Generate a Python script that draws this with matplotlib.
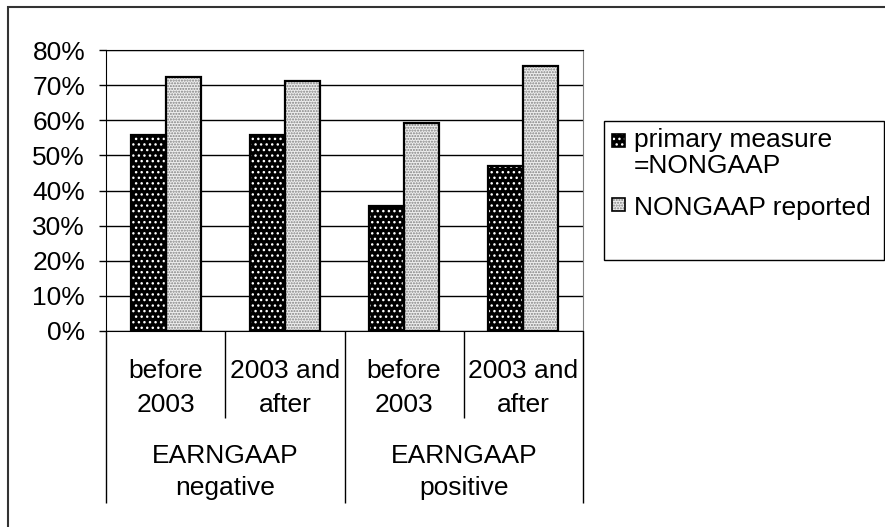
import matplotlib.pyplot as plt
from matplotlib.patches import Rectangle
from matplotlib.transforms import blended_transform_factory

plt.rcParams['font.family'] = ['Liberation Sans', 'DejaVu Sans']
plt.rcParams['font.size'] = 19

periods = ['before\n2003', '2003 and\nafter', 'before\n2003', '2003 and\nafter']
groups = ['EARNGAAP\nnegative', 'EARNGAAP\npositive']
primary_nongaap = [0.557, 0.557, 0.357, 0.470]
nongaap_reported = [0.723, 0.712, 0.592, 0.755]
series_names = ['primary measure\n=NONGAAP', 'NONGAAP reported']

W, H = 885, 527
fig = plt.figure(figsize=(W / 100, H / 100), dpi=100)


def fx(px):
    return px / W


def fy(py):
    return 1 - py / H


ax = fig.add_axes([fx(106), fy(331), fx(583 - 106), (331 - 50) / H])

x = list(range(len(periods)))
w = 0.293
styles = [
    dict(face='black', hatch='...', hcolor='white'),
    dict(face='#eeeeee', hatch='......', hcolor='#808080'),
]
for vals, off, st in [(primary_nongaap, -w / 2, styles[0]),
                      (nongaap_reported, w / 2, styles[1])]:
    xs = [i + off for i in x]
    ax.bar(xs, vals, w, color=st['face'], hatch=st['hatch'],
           edgecolor=st['hcolor'], linewidth=0, zorder=2)
    ax.bar(xs, vals, w, fill=False, edgecolor='black', linewidth=1.6, zorder=3)

ax.set_xlim(-0.5, 3.5)
ax.set_ylim(0, 0.8)
ax.set_yticks([i / 10 for i in range(9)])
ax.set_yticklabels([f'{i * 10}%' for i in range(9)])
ax.tick_params(axis='y', length=5, width=1, pad=10, colors='black')
ax.yaxis.grid(True, color='black', linewidth=1)
ax.set_axisbelow(True)

# category separators hanging below the plot area
ax.set_xticks([-0.5, 1.5, 3.5])
ax.set_xticks([0.5, 2.5], minor=True)
ax.set_xticklabels([])
ax.tick_params(axis='x', which='major', length=172 * 0.72, width=1, direction='out')
ax.tick_params(axis='x', which='minor', length=87 * 0.72, width=1, direction='out')

for s in ['left', 'bottom', 'top']:
    ax.spines[s].set_color('black')
ax.spines['right'].set_color('#808080')

tr = blended_transform_factory(ax.transData, fig.transFigure)
for i, lab in enumerate(periods):
    for j, line in enumerate(lab.split('\n')):
        ax.text(i, fy(378 + 34 * j), line, transform=tr, ha='center', va='baseline')
for g, lab in enumerate(groups):
    for j, line in enumerate(lab.split('\n')):
        ax.text(2 * g + 0.5, fy(463 + 32 * j), line, transform=tr, ha='center', va='baseline')

# legend box
fig.add_artist(Rectangle((fx(604), fy(260)), fx(884 - 604), (260 - 121) / H,
                         transform=fig.transFigure, fill=False, ec='black', lw=1))
sw = 12.5
for (sy, st) in [(134, styles[0]), (198, styles[1])]:
    fig.add_artist(Rectangle((fx(612), fy(sy + sw)), sw / W, sw / H, transform=fig.transFigure,
                             facecolor=st['face'], hatch=st['hatch'], edgecolor=st['hcolor'], lw=0))
    fig.add_artist(Rectangle((fx(612), fy(sy + sw)), sw / W, sw / H, transform=fig.transFigure,
                             fill=False, edgecolor='black', lw=1.2))
fig.text(fx(634), fy(147), series_names[0].split('\n')[0], va='baseline')
fig.text(fx(634), fy(173), series_names[0].split('\n')[1], va='baseline')
fig.text(fx(634), fy(215), series_names[1], va='baseline')

# chart area border
fig.add_artist(Rectangle((fx(8), -0.1), 1.2, fy(7) + 0.1, transform=fig.transFigure,
                         fill=False, ec='#333333', lw=1.5))

fig.savefig('out.png', dpi=100)
